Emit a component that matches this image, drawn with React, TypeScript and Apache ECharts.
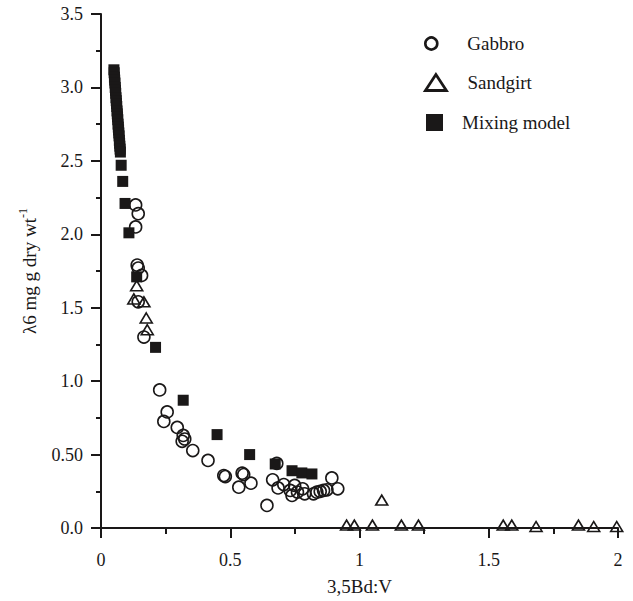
import React, { useEffect, useRef } from "react";
import * as echarts from "echarts";

const xTickLabels = ["0", "0.5", "1", "1.5", "2"];
const yTickLabels = ["0.0", "0.50", "1.0", "1.5", "2.0", "2.5", "3.0", "3.5"];

const gabbroX = [0.134, 0.144, 0.134, 0.140, 0.144, 0.157, 0.144, 0.166, 0.227, 0.256, 0.243, 0.295, 0.318, 0.324, 0.314, 0.355, 0.414, 0.475, 0.481, 0.546, 0.552, 0.533, 0.580, 0.642, 0.664, 0.680, 0.685, 0.707, 0.732, 0.739, 0.749, 0.760, 0.780, 0.788, 0.822, 0.835, 0.848, 0.861, 0.874, 0.893, 0.916];
const gabbroY = [2.20, 2.14, 2.05, 1.79, 1.77, 1.72, 1.54, 1.30, 0.94, 0.79, 0.726, 0.685, 0.63, 0.606, 0.59, 0.527, 0.46, 0.357, 0.35, 0.373, 0.364, 0.278, 0.305, 0.154, 0.328, 0.44, 0.273, 0.296, 0.256, 0.222, 0.29, 0.245, 0.267, 0.233, 0.233, 0.244, 0.249, 0.256, 0.26, 0.341, 0.267];

const sandX = [0.138, 0.127, 0.166, 0.175, 0.179, 1.086, 0.950, 0.980, 1.050, 1.162, 1.228, 1.556, 1.589, 1.683, 1.847, 1.906, 1.995];
const sandY = [1.65, 1.56, 1.54, 1.43, 1.35, 0.19, 0.02, 0.02, 0.02, 0.02, 0.02, 0.02, 0.02, 0.01, 0.02, 0.01, 0.01];

const mixX = [0.050, 0.051, 0.052, 0.053, 0.054, 0.055, 0.056, 0.057, 0.058, 0.059, 0.060, 0.061, 0.062, 0.063, 0.064, 0.065, 0.066, 0.067, 0.068, 0.069, 0.070, 0.071, 0.072, 0.073, 0.074, 0.075, 0.078, 0.084, 0.093, 0.108, 0.138, 0.211, 0.318, 0.449, 0.575, 0.674, 0.739, 0.777, 0.816];
const mixY = [3.12, 3.10, 3.07, 3.05, 3.03, 3.00, 2.98, 2.96, 2.93, 2.91, 2.89, 2.87, 2.84, 2.82, 2.80, 2.78, 2.75, 2.73, 2.71, 2.69, 2.67, 2.64, 2.62, 2.60, 2.58, 2.56, 2.47, 2.36, 2.21, 2.01, 1.71, 1.23, 0.87, 0.636, 0.50, 0.436, 0.39, 0.375, 0.368];

const FONT = "'Liberation Serif', 'Times New Roman', serif";
const INK = "#1a1818";

export default function App() {
  const ref = useRef<HTMLDivElement>(null);
  useEffect(() => {
    if (!ref.current) return;
    const chart = echarts.init(ref.current, null, { renderer: "svg" });
    const zip = (xs: number[], ys: number[]) => xs.map((x, i) => [x, ys[i]]);
    const legendText = (pad: number) => ({
      fontFamily: FONT,
      fontSize: 19,
      color: INK,
      padding: [0, 0, 0, pad],
    });
    chart.setOption({
      animation: false,
      backgroundColor: "#fff",
      grid: { left: 101, right: 15, top: 14, bottom: 71, containLabel: false },
      legend: [
        {
          data: [{ name: "Gabbro", icon: "circle", itemStyle: { color: "#fff", borderColor: INK, borderWidth: 2.6, opacity: 1 } }],
          orient: "vertical",
          left: 424,
          top: 34,
          padding: 0,
          itemWidth: 12,
          itemHeight: 12,
          selectedMode: false,
          textStyle: legendText(25),
        },
        {
          data: [{ name: "Sandgirt", icon: "triangle", itemStyle: { color: "#fff", borderColor: INK, borderWidth: 2.8, opacity: 1 } }],
          orient: "vertical",
          left: 424,
          top: 73,
          padding: 0,
          itemWidth: 21,
          itemHeight: 16,
          selectedMode: false,
          textStyle: legendText(16),
        },
        {
          data: [{ name: "Mixing model", icon: "rect", itemStyle: { color: INK, borderWidth: 0, opacity: 1 } }],
          orient: "vertical",
          left: 426,
          top: 113,
          padding: 0,
          itemWidth: 17,
          itemHeight: 17,
          selectedMode: false,
          textStyle: legendText(14),
        },
      ],
      xAxis: {
        type: "value",
        min: 0,
        max: 2,
        interval: 0.5,
        name: "3,5Bd:V",
        nameLocation: "middle",
        nameGap: 49,
        nameTextStyle: { fontFamily: FONT, fontSize: 19, color: INK },
        axisLine: { show: true, lineStyle: { color: INK, width: 2 } },
        axisTick: { show: true, length: 10, lineStyle: { color: INK, width: 2 } },
        minorTick: { show: true, splitNumber: 2, length: 6, lineStyle: { color: INK, width: 2 } },
        splitLine: { show: false },
        minorSplitLine: { show: false },
        axisLabel: {
          fontFamily: FONT,
          fontSize: 18,
          color: INK,
          margin: 23,
          formatter: (v: number) => xTickLabels[Math.round(v / 0.5)] ?? String(v),
        },
      },
      yAxis: {
        type: "value",
        min: 0,
        max: 3.5,
        interval: 0.5,
        name: "{a|λ6 mg g dry wt}{s|-1}",
        nameLocation: "middle",
        nameGap: 62,
        nameRotate: 90,
        nameTextStyle: {
          fontFamily: FONT,
          color: INK,
          rich: {
            a: { fontFamily: FONT, fontSize: 19, color: INK, lineHeight: 22, verticalAlign: "bottom" },
            s: { fontFamily: FONT, fontSize: 12, color: INK, lineHeight: 22, verticalAlign: "top" },
          },
        },
        axisLine: { show: true, lineStyle: { color: INK, width: 2 } },
        axisTick: { show: true, length: 10, lineStyle: { color: INK, width: 2 } },
        minorTick: { show: true, splitNumber: 2, length: 5, lineStyle: { color: INK, width: 2 } },
        splitLine: { show: false },
        minorSplitLine: { show: false },
        axisLabel: {
          fontFamily: FONT,
          fontSize: 18,
          color: INK,
          margin: 18,
          formatter: (v: number) => yTickLabels[Math.round(v / 0.5)] ?? String(v),
        },
      },
      series: [
        {
          name: "Gabbro",
          type: "scatter",
          symbol: "circle",
          symbolSize: 12,
          data: zip(gabbroX, gabbroY),
          itemStyle: { color: "rgba(255,255,255,0)", borderColor: INK, borderWidth: 1.6, opacity: 1 },
          z: 2,
        },
        {
          name: "Sandgirt",
          type: "scatter",
          symbol: "triangle",
          symbolSize: [12, 10],
          data: zip(sandX, sandY),
          itemStyle: { color: "rgba(255,255,255,0)", borderColor: INK, borderWidth: 1.6, opacity: 1 },
          z: 3,
        },
        {
          name: "Mixing model",
          type: "scatter",
          symbol: "rect",
          symbolSize: 11,
          data: zip(mixX, mixY),
          itemStyle: { color: INK, opacity: 1 },
          z: 4,
        },
      ],
    });
    return () => chart.dispose();
  }, []);
  return (
    <div
      ref={ref}
      style={{ position: "fixed", left: 0, top: 0, width: 633, height: 601, background: "#fff" }}
    />
  );
}
